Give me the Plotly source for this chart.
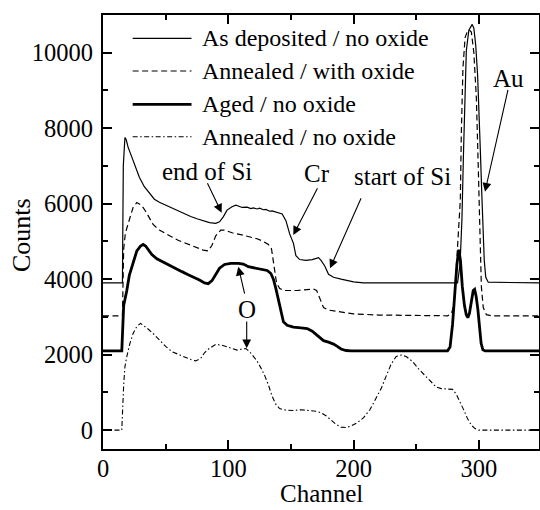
import plotly.graph_objects as go

# ---------------- data ----------------
series_names = ["As deposited / no oxide", "Annealed / with oxide",
                "Aged / no oxide", "Annealed / no oxide"]
x_title = "Channel"
y_title = "Counts"

dep_ch = [0, 15.5, 16.2, 17.5, 18.5, 20, 22.5, 25, 29, 33, 37, 41, 45, 50, 55, 60, 65, 70, 75, 80,
          85, 90, 93, 96, 99, 103, 106, 108, 111, 115, 118, 120, 123, 125, 128, 130, 133, 135, 138, 140, 143,
          146, 149, 152, 154, 157, 162, 167, 172, 174, 177, 180, 184, 190, 200, 208,
          283, 285, 286.5, 287.7, 288.6, 290, 292, 294.7, 296, 297.5, 299, 300.3, 301.3, 302.3,
          303.3, 304.3, 305.5, 307.5, 348]
dep_ct = [3900, 3900, 7000, 7750, 7700, 7500, 7280, 7050, 6700, 6450, 6270, 6120, 6040, 5960, 5900, 5800,
          5730, 5660, 5600, 5550, 5500, 5480, 5520, 5650, 5830, 5920, 5960, 5940, 5900, 5910, 5870, 5890,
          5860, 5880, 5840, 5850, 5800, 5810, 5780, 5770, 5730,
          5550, 5200, 4950, 4620, 4520, 4500, 4520, 4570, 4500, 4350, 4130, 4050, 4000, 3930, 3900,
          3900, 4400, 5600, 7300, 8740, 10060, 10600, 10750, 10650, 10200, 9400, 8400, 7300, 6300,
          5300, 4500, 4050, 3920, 3900]

ann_ox_ch = [0, 15.5, 16.5, 17.8, 19, 21, 24, 27, 29, 31, 34, 37, 40, 45, 50, 55, 60, 65, 70, 75, 80,
             84, 87, 90, 94, 97, 103, 110, 117, 123, 128, 132, 134.5, 136.5, 138.5, 141, 145, 155, 163,
             168, 170.5, 173, 176, 180, 190, 200, 220, 250, 275, 278, 280, 282, 284, 285.2, 286,
             287.3, 289, 291, 292.5, 294, 296, 298, 299.5, 300.8, 302, 303.5, 306, 310, 348]
ann_ox_ct = [3030, 3030, 4800, 5200, 5350, 5600, 5900, 6030, 6000, 5950, 5800, 5620, 5450, 5300, 5200,
             5120, 5030, 4970, 4900, 4830, 4770, 4750, 4900, 5150, 5300, 5300, 5230, 5180, 5130, 5070,
             5000, 4920, 4800, 4300, 3900, 3750, 3700, 3700, 3730, 3740, 3700, 3500, 3250, 3180, 3120,
             3080, 3050, 3030, 3030, 3080, 3300, 4300, 5400, 6100, 7860, 9600, 10400, 10580, 10600,
             10550, 10000, 8800, 7000, 5000, 3800, 3250, 3060, 3030, 3030]

aged_ch = [0, 15, 16.5, 17.5, 19, 21, 24, 27, 30, 32, 34, 36, 39, 43, 48, 53, 58, 63, 68, 73, 77, 81,
           84, 87, 90, 93, 97, 102, 108, 112, 116, 120, 126, 131, 134, 136, 138, 140, 142, 144, 147,
           152, 158, 163, 167, 170, 173, 176, 180, 184, 187, 190, 194, 198, 275, 277, 279, 281,
           282.5, 284, 285.3, 286.8, 288.5, 290, 291.2, 292.5, 294, 295.5, 296.6, 297.8, 299.2,
           300.5, 301.8, 303.2, 305, 348]
aged_ct = [2100, 2100, 3300, 3450, 3700, 4100, 4450, 4750, 4880, 4920, 4880, 4800, 4650, 4540, 4450,
           4370, 4280, 4200, 4120, 4050, 3980, 3900, 3880, 3960, 4120, 4290, 4390, 4420, 4420, 4400,
           4330, 4300, 4270, 4230, 4150, 4000, 3750, 3450, 3100, 2870, 2780, 2730, 2710, 2690, 2620,
           2540, 2440, 2370, 2330, 2280, 2220, 2150, 2110, 2100, 2100, 2200, 2800, 3700, 4400, 4780,
           4500, 3800, 3300, 3050, 2980, 3100, 3450, 3700, 3730, 3550, 3200, 2700, 2300, 2130, 2100,
           2100]

ann_no_ch = [0, 15, 16.5, 17.5, 19, 21.5, 24, 27, 30, 33, 36, 40, 45, 50, 55, 60, 65, 70, 74, 78, 81,
             85, 90, 95, 99, 103, 107, 111, 114, 117, 120, 123, 126, 129, 132, 135, 138, 141, 146, 152,
             158, 165, 170, 174, 178, 182, 186, 190, 194, 198, 203, 208, 213, 218, 222, 226, 230, 234,
             238, 242, 247, 252, 257, 262, 266, 270, 275, 279, 282, 285, 288, 291, 294, 297, 300, 348]
ann_no_ct = [0, 0, 1200, 1680, 1950, 2300, 2560, 2750, 2830, 2760, 2680, 2560, 2380, 2220, 2080, 2000,
             1940, 1870, 1835, 1900, 2050, 2170, 2270, 2250, 2200, 2150, 2120, 2150, 2160, 2080, 1950,
             1830, 1650, 1450, 1200, 900, 680, 570, 530, 520, 540, 520, 500, 460, 380, 270, 150, 80, 70,
             110, 200, 330, 540, 850, 1100, 1430, 1750, 1950, 1990, 1950, 1820, 1620, 1450, 1260, 1140,
             1100, 1100, 1080, 950, 760, 530, 300, 130, 40, 0, 0]

x_tickvals = [0, 100, 200, 300]
y_tickvals = [0, 2000, 4000, 6000, 8000, 10000]

# annotation labels: (text, x, y)
labels = [("end of Si", 83.4, 6866), ("Cr", 170.6, 6812), ("start of Si", 239.4, 6733),
          ("Au", 324, 9330), ("O", 115.3, 3209)]
# arrows: (tip_x, tip_y, tail_x, tail_y)
arrows = [(94.7, 5760, 82.8, 6582), (151.9, 5170, 171.8, 6450), (181.2, 4287, 206.5, 6185),
          (304.9, 6317, 323.5, 9057), (108.0, 4330, 113.3, 3580), (114.7, 2167, 114.7, 2917)]

# ---------------- figure ----------------
FONT = "Liberation Serif"
styles = [dict(color="black", width=1.2),
          dict(color="black", width=1.2, dash="6px,3.5px"),
          dict(color="black", width=2.8),
          dict(color="black", width=1.1, dash="5px,2.5px,1.5px,2.5px")]
xs = [dep_ch, ann_ox_ch, aged_ch, ann_no_ch]
ys = [dep_ct, ann_ox_ct, aged_ct, ann_no_ct]

fig = go.Figure()
for name, x, y, st in zip(series_names, xs, ys, styles):
    fig.add_trace(go.Scatter(x=x, y=y, mode="lines", name=name, line=st, showlegend=False))

# hand-drawn legend (paper coordinates)
legend_rows = [0.9463, 0.8710, 0.7942, 0.7196]
shapes = []
annotations = []
for name, st, ry in zip(series_names, styles, legend_rows):
    shapes.append(dict(type="line", xref="paper", yref="paper", x0=0.068, x1=0.203, y0=ry, y1=ry,
                       line=st))
    annotations.append(dict(xref="paper", yref="paper", x=0.222, y=ry, text=name, showarrow=False,
                            xanchor="left", yanchor="middle",
                            font=dict(family=FONT, size=24, color="black")))

for txt, lx, ly in labels:
    annotations.append(dict(x=lx, y=ly, text=txt, showarrow=False, xanchor="center", yanchor="middle",
                            font=dict(family=FONT, size=25, color="black")))
for tx, ty, ax_, ay_ in arrows:
    annotations.append(dict(x=tx, y=ty, ax=ax_, ay=ay_, axref="x", ayref="y", text="",
                            showarrow=True, arrowhead=2, arrowsize=1.6, arrowwidth=1.1,
                            arrowcolor="black", standoff=0, startstandoff=0))

# axis titles
annotations.append(dict(xref="paper", yref="paper", x=0.5016, y=-0.1394, text=x_title,
                        showarrow=False, xanchor="center", yanchor="bottom",
                        font=dict(family=FONT, size=25, color="black")))
annotations.append(dict(xref="paper", yref="paper", x=-0.1858, y=0.4931, text=y_title,
                        showarrow=False, xanchor="center", yanchor="middle", textangle=-90,
                        font=dict(family=FONT, size=26, color="black")))

axis_common = dict(showline=True, linecolor="black", linewidth=2, mirror="allticks",
                   ticks="inside", ticklen=9, tickwidth=1.5, tickcolor="black",
                   showgrid=False, zeroline=False, automargin=False,
                   tickfont=dict(family=FONT, size=24.5, color="black"))

fig.update_layout(
    width=540, height=510,
    margin=dict(l=103, r=1, t=15, b=61),
    paper_bgcolor="white", plot_bgcolor="white",
    font=dict(family=FONT, color="black"),
    shapes=shapes, annotations=annotations,
    xaxis=dict(range=[0, 348], tickvals=x_tickvals, ticktext=[str(v) for v in x_tickvals],
               minor=dict(dtick=50, tick0=0, ticks="inside", ticklen=5, tickwidth=1.5,
                          tickcolor="black", showgrid=False),
               ticklabelstandoff=-3, **axis_common),
    yaxis=dict(range=[-500, 11000], tickvals=y_tickvals, ticktext=[str(v) for v in y_tickvals],
               minor=dict(dtick=1000, tick0=0, ticks="inside", ticklen=5, tickwidth=1.5,
                          tickcolor="black", showgrid=False),
               ticklabelstandoff=3, **axis_common),
)

fig.write_html("out.html")
